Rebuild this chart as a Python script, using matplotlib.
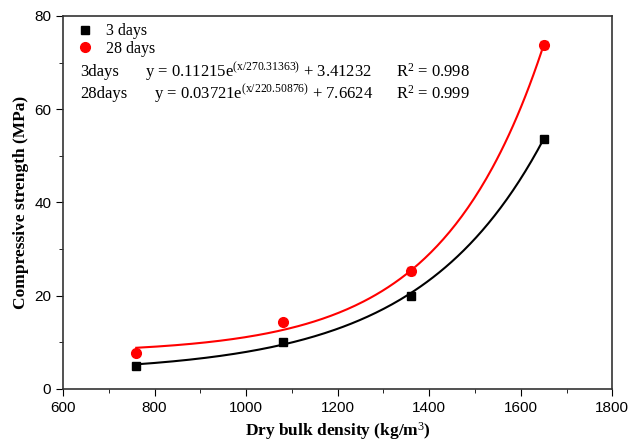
import numpy as np
import matplotlib
matplotlib.use("Agg")
import matplotlib.pyplot as plt

density = [760, 1080, 1360, 1650]
strength_3d = [5.0, 10.0, 20.0, 53.7]
strength_28d = [7.8, 14.3, 25.3, 73.8]
err_28d = [0.3, 0.4, 0.9, 0.9]

# exponential fit parameters shown on the chart: y = a*exp(x/t) + y0
fit_3d = (0.11215, 270.31363, 3.41232)
fit_28d = (0.03721, 220.50876, 7.6624)

plt.rcParams['mathtext.fontset'] = 'custom'
plt.rcParams['mathtext.rm'] = 'Liberation Serif'
plt.rcParams['mathtext.it'] = 'Liberation Serif:italic'

fig = plt.figure(figsize=(6.3, 4.43), dpi=100)
ax = fig.add_axes([0.1, 0.122, 0.872, 0.842])

xs = np.linspace(density[0], density[-1], 200)
a, t, y0 = fit_3d
ax.plot(xs, a * np.exp(xs / t) + y0, color='black', lw=1.5)
a, t, y0 = fit_28d
ax.plot(xs, a * np.exp(xs / t) + y0, color='red', lw=1.5)

ax.plot(density, strength_3d, 's', color='black', ms=6, label='3 days', zorder=3)
ax.errorbar(density, strength_28d, yerr=err_28d, fmt='none', ecolor='#f08080',
            capsize=3, elinewidth=1, zorder=2)
ax.plot(density, strength_28d, 'o', color='red', ms=7, label='28 days', zorder=3)

ax.set_xlim(600, 1800)
ax.set_ylim(0, 80)
ax.set_xticks(np.arange(600, 1801, 200))
ax.set_xticks(np.arange(700, 1800, 200), minor=True)
ax.set_yticks(np.arange(0, 81, 20))
ax.set_yticks(np.arange(10, 80, 20), minor=True)
ax.tick_params(which='both', direction='out', labelsize=11)
ax.tick_params(which='major', length=5)
ax.tick_params(which='minor', length=3)
for lab in ax.get_xticklabels() + ax.get_yticklabels():
    lab.set_fontfamily('Liberation Sans')
for sp in ax.spines.values():
    sp.set_linewidth(1.2)
    sp.set_color('#333333')

ax.set_xlabel('Dry bulk density (kg/m$^3$)', fontfamily='Liberation Serif',
              fontweight='bold', fontsize=12.5)
ax.set_ylabel('Compressive strength (MPa)', fontfamily='Liberation Serif',
              fontweight='bold', fontsize=12.5)

ax.legend(loc='upper left', frameon=False, prop={'family': 'Liberation Serif', 'size': 11.5},
          handletextpad=0.3, borderaxespad=0.0, labelspacing=0.1,
          bbox_to_anchor=(0.0, 0.997))

tf = dict(fontfamily='Liberation Serif', fontsize=12, transform=ax.transAxes, va='center')
ax.text(0.032, 0.85, '3days', **tf)
ax.text(0.149, 0.85, 'y = 0.11215e$^{\\mathrm{(x/270.31363)}}$ + 3.41232', **tf)
ax.text(0.607, 0.85, 'R$^2$ = 0.998', **tf)
ax.text(0.032, 0.791, '28days', **tf)
ax.text(0.165, 0.791, 'y = 0.03721e$^{\\mathrm{(x/220.50876)}}$ + 7.6624', **tf)
ax.text(0.607, 0.791, 'R$^2$ = 0.999', **tf)

fig.savefig('out.png', dpi=100)
